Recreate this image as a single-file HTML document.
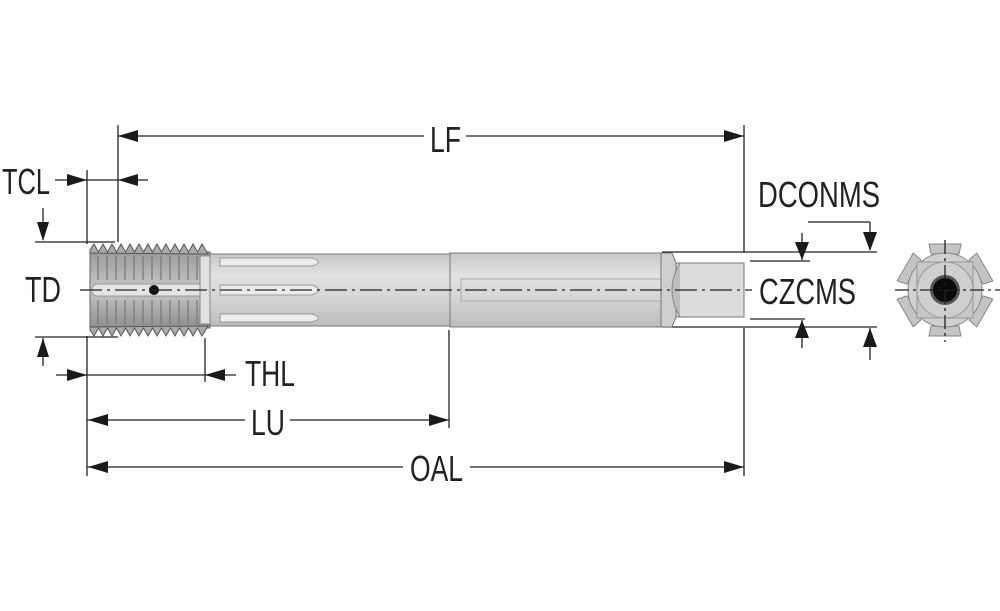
<!DOCTYPE html>
<html><head><meta charset="utf-8"><style>
html,body{margin:0;padding:0;background:#fff;}
svg{display:block;}
text{font-family:"Liberation Sans Narrow","Liberation Sans",sans-serif;font-size:36px;fill:#222;}
</style></head><body>
<svg width="1000" height="611" viewBox="0 0 1000 611" xmlns="http://www.w3.org/2000/svg">
<defs>
<linearGradient id="sh" x1="0" y1="0" x2="0" y2="1">
<stop offset="0" stop-color="#c8c8c8"/><stop offset="0.3" stop-color="#e2e2e2"/><stop offset="0.6" stop-color="#d6d6d6"/><stop offset="1" stop-color="#bcbcbc"/>
</linearGradient>
<linearGradient id="th" x1="0" y1="0" x2="0" y2="1">
<stop offset="0" stop-color="#9a9a9a"/><stop offset="0.5" stop-color="#c8c8c8"/><stop offset="1" stop-color="#8e8e8e"/>
</linearGradient>
</defs>
<g stroke="#222" stroke-width="1.3" fill="none">
<!-- extension lines -->
<line x1="118" y1="125" x2="118" y2="242"/>
<line x1="744" y1="125" x2="744" y2="252"/>
<line x1="744" y1="328" x2="744" y2="476"/>
<line x1="87" y1="170" x2="87" y2="244"/>
<line x1="87" y1="336" x2="87" y2="476"/>
<line x1="205" y1="338" x2="205" y2="382"/>
<line x1="449" y1="330" x2="449" y2="428"/>
<!-- LF -->
<line x1="118" y1="136" x2="424" y2="136"/><line x1="466" y1="136" x2="744" y2="136"/>
<!-- TCL -->
<line x1="55" y1="180" x2="148" y2="180"/>
<!-- TD -->
<line x1="43" y1="208" x2="43" y2="240"/><line x1="35" y1="242" x2="115" y2="242"/>
<line x1="35" y1="337" x2="118" y2="337"/><line x1="43" y1="338" x2="43" y2="366"/>
<!-- THL -->
<line x1="56" y1="375" x2="236" y2="375"/>
<!-- LU -->
<line x1="87" y1="420" x2="245" y2="420"/><line x1="290" y1="420" x2="449" y2="420"/>
<!-- OAL -->
<line x1="87" y1="467" x2="403" y2="467"/><line x1="470" y1="467" x2="744" y2="467"/>
<!-- DCONMS / CZCMS -->
<line x1="662" y1="252" x2="877" y2="252"/><line x1="662" y1="327" x2="877" y2="327"/>
<line x1="750" y1="261" x2="810" y2="261"/><line x1="750" y1="319" x2="805" y2="319"/>
<line x1="808" y1="222" x2="870" y2="222"/><line x1="870" y1="222" x2="870" y2="250"/>
<line x1="802" y1="233" x2="802" y2="260"/><line x1="802" y1="320" x2="802" y2="348"/>
<line x1="870" y1="328" x2="870" y2="360"/>
</g>
<g fill="#1a1a1a">
<!-- LF arrows -->
<polygon points="118,136 138,130 138,142"/><polygon points="744,136 724,130 724,142"/>
<!-- TCL -->
<polygon points="87,180 67,174 67,186"/><polygon points="118,180 138,174 138,186"/>
<!-- TD -->
<polygon points="43,241 37,222 49,222"/><polygon points="43,338 37,357 49,357"/>
<!-- THL -->
<polygon points="87,375 67,369 67,381"/><polygon points="205,375 225,369 225,381"/>
<!-- LU -->
<polygon points="88,420 108,414 108,426"/><polygon points="449,420 429,414 429,426"/>
<!-- OAL -->
<polygon points="88,467 108,461 108,473"/><polygon points="744,467 724,461 724,473"/>
<!-- right -->
<polygon points="870,251 863,232 877,232"/><polygon points="802,260 795,242 809,242"/>
<polygon points="802,320 795,338 809,338"/><polygon points="870,328 863,347 877,347"/>
</g>
<!-- tool body -->
<rect x="206" y="254" width="244" height="72" fill="url(#sh)" stroke="#777" stroke-width="1"/>
<rect x="450" y="253" width="211" height="74" fill="url(#sh)" stroke="#777" stroke-width="1"/>
<rect x="461" y="279" width="200" height="22" fill="none" stroke="#aaa" stroke-width="1"/>
<path d="M220,258 L312,258 Q325,262 312,266 L220,266Z M220,285 L312,285 Q325,290 312,295 L220,295Z M220,314 L312,314 Q325,318 312,322 L220,322Z" fill="#ececec" stroke="#999" stroke-width="1"/>
<polygon points="661,253 672,253 676,263 744,263 744,317 676,317 672,327 661,327" fill="#cfcfcf" stroke="#777" stroke-width="1"/>
<rect x="676" y="263" width="68" height="54" fill="#dcdcdc" stroke="#777" stroke-width="1"/>
<path d="M680,263 Q664,290 680,317" fill="#bdbdbd" stroke="#888"/>
<!-- thread -->
<g>
<rect x="90" y="252" width="120" height="76" fill="url(#th)" stroke="#666" stroke-width="1"/>
<path d="M90,253 L90,250 L94,244 L98.5,252 L103,244 L107.5,252 L112,244 L116.5,252 L121,244 L125.5,252 L130,244 L134.5,252 L139,244 L143.5,252 L148,244 L152.5,252 L157,244 L161.5,252 L166,244 L170.5,252 L175,244 L179.5,252 L184,244 L188.5,252 L193,244 L197.5,252 L202,244 L208,254Z" fill="#aaa" stroke="#555" stroke-width="1"/>
<path d="M90,327 L90,330 L94,336 L98.5,328 L103,336 L107.5,328 L112,336 L116.5,328 L121,336 L125.5,328 L130,336 L134.5,328 L139,336 L143.5,328 L148,336 L152.5,328 L157,336 L161.5,328 L166,336 L170.5,328 L175,336 L179.5,328 L184,336 L188.5,328 L193,336 L197.5,328 L202,336 L208,326Z" fill="#aaa" stroke="#555" stroke-width="1"/>
<g stroke="#777" stroke-width="1.2">
<line x1="98" y1="256" x2="98" y2="280"/><line x1="107" y1="256" x2="107" y2="280"/><line x1="116" y1="256" x2="116" y2="280"/><line x1="125" y1="256" x2="125" y2="280"/><line x1="134" y1="256" x2="134" y2="280"/><line x1="143" y1="256" x2="143" y2="280"/><line x1="152" y1="256" x2="152" y2="280"/><line x1="161" y1="256" x2="161" y2="280"/><line x1="170" y1="256" x2="170" y2="280"/><line x1="179" y1="256" x2="179" y2="280"/><line x1="188" y1="256" x2="188" y2="280"/><line x1="197" y1="256" x2="197" y2="280"/>
<line x1="98" y1="300" x2="98" y2="324"/><line x1="107" y1="300" x2="107" y2="324"/><line x1="116" y1="300" x2="116" y2="324"/><line x1="125" y1="300" x2="125" y2="324"/><line x1="134" y1="300" x2="134" y2="324"/><line x1="143" y1="300" x2="143" y2="324"/><line x1="152" y1="300" x2="152" y2="324"/><line x1="161" y1="300" x2="161" y2="324"/><line x1="170" y1="300" x2="170" y2="324"/><line x1="179" y1="300" x2="179" y2="324"/><line x1="188" y1="300" x2="188" y2="324"/><line x1="197" y1="300" x2="197" y2="324"/>
</g>
<rect x="92" y="284" width="118" height="12" rx="5" fill="#e4e4e4" stroke="#999"/>
<rect x="200" y="256" width="10" height="68" fill="#e0e0e0" stroke="#888" stroke-width="1"/>
<circle cx="154" cy="290" r="5" fill="#111"/>
</g>
<!-- centerline -->
<line x1="80" y1="290" x2="752" y2="290" stroke="#222" stroke-width="1.3" stroke-dasharray="22,5,3,5"/>
<!-- end view -->
<g transform="translate(945,290)">
<g fill="#c4c4c4" stroke="#888" stroke-width="1">
<path d="M-16,-46 L16,-46 L14,-36 L-14,-36Z" transform="rotate(0)"/>
<path d="M-16,-46 L16,-46 L14,-36 L-14,-36Z" transform="rotate(60)"/>
<path d="M-16,-46 L16,-46 L14,-36 L-14,-36Z" transform="rotate(120)"/>
<path d="M-16,-46 L16,-46 L14,-36 L-14,-36Z" transform="rotate(180)"/>
<path d="M-16,-46 L16,-46 L14,-36 L-14,-36Z" transform="rotate(240)"/>
<path d="M-16,-46 L16,-46 L14,-36 L-14,-36Z" transform="rotate(300)"/>
</g>
<circle r="37" fill="#d0d0d0" stroke="#888"/>
<rect x="-28" y="-28" width="56" height="56" fill="#c8c8c8" stroke="#999"/>
<circle r="28" fill="#cfcfcf" stroke="#999"/>
<circle r="15" fill="#555"/>
<circle r="12" fill="#0a0a0a"/>
<line x1="-50" y1="0" x2="55" y2="0" stroke="#222" stroke-width="1.3" stroke-dasharray="14,4,3,4"/>
<line x1="0" y1="-50" x2="0" y2="52" stroke="#222" stroke-width="1.3" stroke-dasharray="14,4,3,4"/>
</g>
<!-- labels -->
<text x="430" y="152" textLength="31" lengthAdjust="spacingAndGlyphs">LF</text>
<text x="2" y="194" textLength="48" lengthAdjust="spacingAndGlyphs">TCL</text>
<text x="25" y="302" textLength="36" lengthAdjust="spacingAndGlyphs">TD</text>
<text x="245" y="386" textLength="50" lengthAdjust="spacingAndGlyphs">THL</text>
<text x="251" y="435" textLength="34" lengthAdjust="spacingAndGlyphs">LU</text>
<text x="410" y="481" textLength="53" lengthAdjust="spacingAndGlyphs">OAL</text>
<text x="758" y="207" textLength="122" lengthAdjust="spacingAndGlyphs">DCONMS</text>
<text x="759" y="304" textLength="97" lengthAdjust="spacingAndGlyphs">CZCMS</text>
</svg>
</body></html>
